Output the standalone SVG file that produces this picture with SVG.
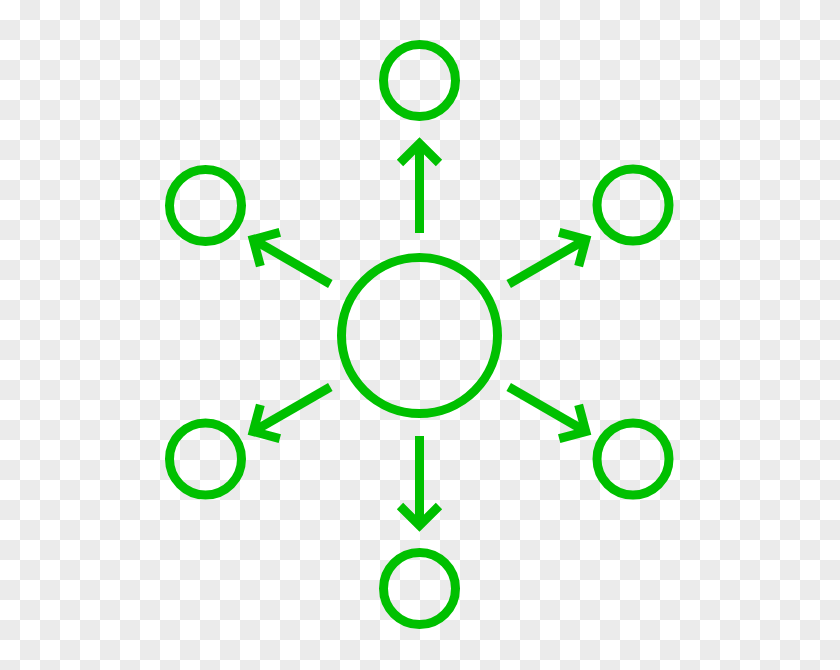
<svg xmlns="http://www.w3.org/2000/svg" width="840" height="670" viewBox="0 0 840 670">
  <style>
    .node { fill: none; stroke: #00c000; stroke-width: 9; }
    .conn { fill: none; stroke: #00c000; stroke-width: 9; stroke-linecap: butt; marker-end: url(#chev); }
  </style>
  <defs>
    <pattern id="checker" x="0" y="0" width="40" height="40" patternUnits="userSpaceOnUse">
      <rect x="0" y="0" width="40" height="40" fill="#ffffff"/>
      <rect x="20" y="0" width="20" height="20" fill="#ebebeb"/>
      <rect x="0" y="20" width="20" height="20" fill="#ebebeb"/>
    </pattern>
    <marker id="chev" markerUnits="userSpaceOnUse" viewBox="-30 -30 40 60" refX="0" refY="0" markerWidth="40" markerHeight="60" orient="auto" overflow="visible">
      <path d="M -19.5 -19.5 L 0 0 L -19.5 19.5" fill="none" stroke="#00c000" stroke-width="9" stroke-linejoin="miter" stroke-linecap="butt"/>
    </marker>
  </defs>
  <rect x="0" y="0" width="840" height="670" fill="url(#checker)"/>

  <g id="connectors">
    <line class="conn" x1="419.5" y1="233" x2="419.5" y2="143.5"/>
    <line class="conn" x1="419.5" y1="436" x2="419.5" y2="525.5"/>
    <line class="conn" x1="330.3" y1="284" x2="253.2" y2="239.5"/>
    <line class="conn" x1="508.7" y1="284" x2="585.8" y2="239.5"/>
    <line class="conn" x1="330.3" y1="387" x2="253.2" y2="431.5"/>
    <line class="conn" x1="508.7" y1="387" x2="585.8" y2="431.5"/>
  </g>

  <g id="center"><circle class="node" cx="419.5" cy="335.5" r="78"/></g>
  <g id="top"><circle class="node" cx="419.5" cy="80.5" r="36"/></g>
  <g id="bottom"><circle class="node" cx="419.5" cy="588.5" r="36"/></g>
  <g id="top-left"><circle class="node" cx="205.5" cy="205.5" r="36"/></g>
  <g id="top-right"><circle class="node" cx="633" cy="205" r="36"/></g>
  <g id="bottom-left"><circle class="node" cx="205.5" cy="459" r="36"/></g>
  <g id="bottom-right"><circle class="node" cx="633" cy="459" r="36"/></g>
</svg>
